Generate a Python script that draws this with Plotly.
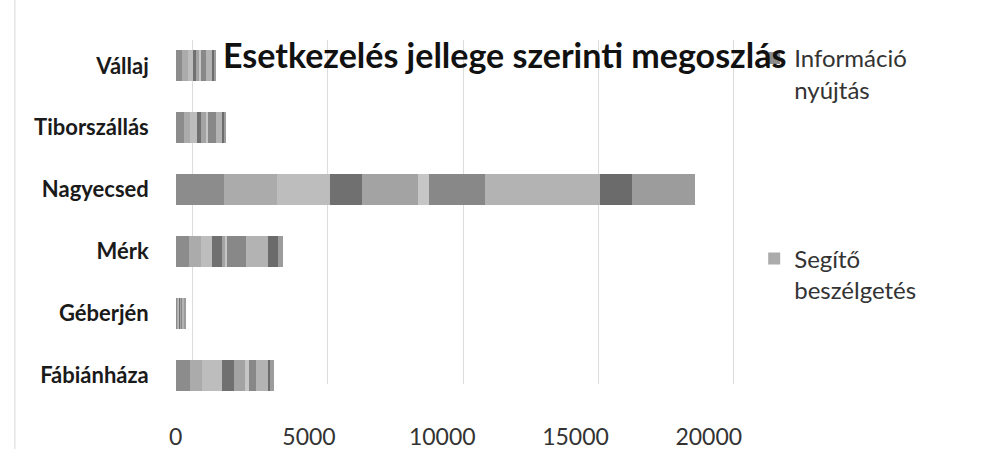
import plotly.graph_objects as go

# ---- data ----
categories = ["Fábiánháza", "Géberjén", "Mérk", "Nagyecsed", "Tiborszállás", "Vállaj"]

series_names = [
    "Információ nyújtás",
    "Segítő beszélgetés",
    "3. esetkezelés típus",
    "4. esetkezelés típus",
    "5. esetkezelés típus",
    "6. esetkezelés típus",
    "7. esetkezelés típus",
    "8. esetkezelés típus",
    "9. esetkezelés típus",
    "10. esetkezelés típus",
]

s1 = [550, 50, 500, 1800, 300, 250]
s2 = [450, 40, 450, 2000, 250, 200]
s3 = [750, 40, 410, 2000, 250, 200]
s4 = [450, 30, 370, 1200, 150, 100]
s5 = [400, 30, 100, 2100, 200, 150]
s6 = [150, 10, 90, 400, 50, 50]
s7 = [250, 60, 700, 2100, 300, 200]
s8 = [450, 50, 850, 4300, 250, 200]
s9 = [100, 20, 370, 1200, 80, 80]
s10 = [150, 20, 180, 2400, 70, 70]
series_values = [s1, s2, s3, s4, s5, s6, s7, s8, s9, s10]

x_ticks = [0, 5000, 10000, 15000, 20000]
title_text = "Esetkezelés jellege szerinti megoszlás"

# ---- styles ----
colors = ["#8c8c8c", "#ababab", "#bdbdbd", "#707070", "#a3a3a3",
          "#c6c6c6", "#888888", "#b3b3b3", "#6b6b6b", "#9c9c9c"]
W, H = 1003, 450
FONT = "Lato"

fig = go.Figure()

# invisible trace that anchors the back-wall gridline axis
fig.add_trace(go.Scatter(x=[x_ticks[0], x_ticks[-1]], y=[0, 0], xaxis="x", yaxis="y",
                         mode="markers", marker=dict(opacity=0), hoverinfo="skip",
                         showlegend=False))

for i, (name, vals) in enumerate(zip(series_names, series_values)):
    fig.add_trace(go.Bar(
        y=categories, x=vals, name=name, orientation="h",
        xaxis="x2", yaxis="y2",
        marker=dict(color=colors[i], line=dict(width=0)),
        width=0.5,
        showlegend=(i < 2),
        legendgroup=f"g{i}",
    ))

fig.update_layout(
    width=W, height=H,
    paper_bgcolor="white", plot_bgcolor="rgba(0,0,0,0)",
    margin=dict(l=0, r=0, t=0, b=0),
    barmode="stack",
    font=dict(family=FONT, color="#333333"),
    title=dict(text=title_text, x=223 / W, xanchor="left", y=1 - 56 / H, yanchor="middle",
               font=dict(family=FONT, size=34, color="#111111", weight="bold")),
    # back-wall gridlines
    xaxis=dict(domain=[182.5 / W, 741.5 / W], range=[-200, 20200], anchor="y",
               tickvals=x_ticks, showticklabels=False, showgrid=True,
               gridcolor="#dcdcdc", gridwidth=1, zeroline=False, showline=False, ticks=""),
    yaxis=dict(domain=[(H - 385) / H, (H - 40) / H], range=[0, 1], visible=False,
               anchor="x"),
    # bars
    xaxis2=dict(domain=[171 / W, 738 / W], range=[0, 21000], anchor="y2",
                tickvals=x_ticks, ticktext=[str(v) for v in x_ticks],
                showgrid=False, zeroline=False, showline=False, ticks="",
                ticklabelstandoff=15,
                tickfont=dict(family=FONT, size=23, color="#333333")),
    yaxis2=dict(domain=[(H - 407) / H, (H - 35) / H], anchor="x2",
                categoryorder="array", categoryarray=categories, range=[-0.5, 5.5],
                showgrid=False, zeroline=False, showline=False, ticks="",
                ticklabelstandoff=26,
                tickfont=dict(family=FONT, size=22, color="#1a1a1a", weight="bold")),
    legend=dict(x=757 / W, xanchor="left", y=1 - 36 / H, yanchor="top",
                traceorder="grouped", tracegroupgap=135, valign="top",
                font=dict(family=FONT, size=24, color="#333333"),
                bgcolor="rgba(0,0,0,0)"),
    shapes=[dict(type="line", xref="paper", yref="paper", x0=8 / W, x1=8 / W, y0=0, y1=1,
                 line=dict(color="#d8d8d8", width=1))],
)

# legend labels wrap to two lines
fig.data[1].name = "Információ<br>nyújtás"
fig.data[2].name = "Segítő<br>beszélgetés"

fig.write_html("out.html", config={"displayModeBar": False},
               post_script="document.body.style.margin='0px';")
